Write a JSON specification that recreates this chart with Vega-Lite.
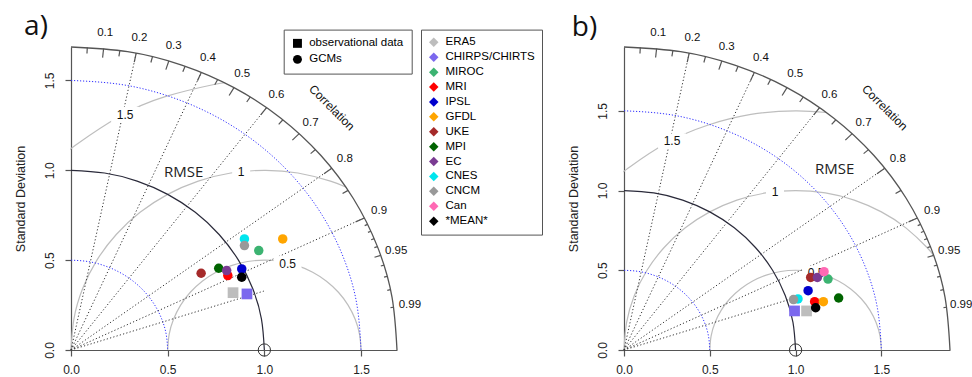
{
 "$schema": "https://vega.github.io/schema/vega-lite/v6.json",
 "padding": {"left": 13, "top": 12, "right": 5, "bottom": 0},
 "bounds": "flush",
 "spacing": 227,
 "background": "white",
 "config": {"view": {"stroke": null}, "font": "Liberation Sans"},
 "resolve": {"scale": {"x": "independent", "y": "independent", "color": "independent", "shape": "independent"}, "legend": {"color": "independent", "shape": "independent"}},
 "datasets": {
  "sd": [
   {"r":0.5,"x":0.5,"y":0},{"r":0.5,"x":0.4924,"y":0.0868},{"r":0.5,"x":0.4698,"y":0.171},{"r":0.5,"x":0.433,"y":0.25},{"r":0.5,"x":0.383,"y":0.3214},{"r":0.5,"x":0.3214,"y":0.383},{"r":0.5,"x":0.25,"y":0.433},{"r":0.5,"x":0.171,"y":0.4698},{"r":0.5,"x":0.0868,"y":0.4924},{"r":0.5,"x":0,"y":0.5},
   {"r":1,"x":1,"y":0},{"r":1,"x":0.9848,"y":0.1736},{"r":1,"x":0.9397,"y":0.342},{"r":1,"x":0.866,"y":0.5},{"r":1,"x":0.766,"y":0.6428},{"r":1,"x":0.6428,"y":0.766},{"r":1,"x":0.5,"y":0.866},{"r":1,"x":0.342,"y":0.9397},{"r":1,"x":0.1736,"y":0.9848},{"r":1,"x":0,"y":1},
   {"r":1.5,"x":1.5,"y":0},{"r":1.5,"x":1.4772,"y":0.2605},{"r":1.5,"x":1.4095,"y":0.513},{"r":1.5,"x":1.299,"y":0.75},{"r":1.5,"x":1.1491,"y":0.9642},{"r":1.5,"x":0.9642,"y":1.1491},{"r":1.5,"x":0.75,"y":1.299},{"r":1.5,"x":0.513,"y":1.4095},{"r":1.5,"x":0.2605,"y":1.4772},{"r":1.5,"x":0,"y":1.5}
  ],
  "rmse05": [
   {"x":1.5,"y":0},{"x":1.4924,"y":0.0868},{"x":1.4698,"y":0.171},{"x":1.433,"y":0.25},{"x":1.383,"y":0.3214},{"x":1.3214,"y":0.383},{"x":1.25,"y":0.433},{"x":1.171,"y":0.4698},{"x":1.0868,"y":0.4924},{"x":1,"y":0.5},{"x":0.9132,"y":0.4924},{"x":0.829,"y":0.4698},{"x":0.75,"y":0.433},{"x":0.6786,"y":0.383},{"x":0.617,"y":0.3214},{"x":0.567,"y":0.25},{"x":0.5302,"y":0.171},{"x":0.5076,"y":0.0868},{"x":0.5,"y":0}
  ],
  "rmseA": [
   {"r":1,"x":1.421,"y":0.907},{"r":1,"x":1.342,"y":0.9397},{"r":1,"x":1.1736,"y":0.9848},{"r":1,"x":1,"y":1},{"r":1,"x":0.8264,"y":0.9848},{"r":1,"x":0.658,"y":0.9397},{"r":1,"x":0.5,"y":0.866},{"r":1,"x":0.3572,"y":0.766},{"r":1,"x":0.234,"y":0.6428},{"r":1,"x":0.134,"y":0.5},{"r":1,"x":0.0603,"y":0.342},{"r":1,"x":0.0152,"y":0.1736},{"r":1,"x":0,"y":0},
   {"r":1.5,"x":0.7964,"y":1.4861},{"r":1.5,"x":0.7395,"y":1.4772},{"r":1.5,"x":0.487,"y":1.4095},{"r":1.5,"x":0.25,"y":1.299},{"r":1.5,"x":0.0358,"y":1.1491},{"r":1.5,"x":0,"y":1.118}
  ],
  "rmseB": [
   {"r":1,"x":1.8049,"y":0.5934},{"r":1,"x":1.766,"y":0.6428},{"r":1,"x":1.6428,"y":0.766},{"r":1,"x":1.5,"y":0.866},{"r":1,"x":1.342,"y":0.9397},{"r":1,"x":1.1736,"y":0.9848},{"r":1,"x":1,"y":1},{"r":1,"x":0.8264,"y":0.9848},{"r":1,"x":0.658,"y":0.9397},{"r":1,"x":0.5,"y":0.866},{"r":1,"x":0.3572,"y":0.766},{"r":1,"x":0.234,"y":0.6428},{"r":1,"x":0.134,"y":0.5},{"r":1,"x":0.0603,"y":0.342},{"r":1,"x":0.0152,"y":0.1736},{"r":1,"x":0,"y":0},
   {"r":1.5,"x":1.1802,"y":1.4892},{"r":1.5,"x":1,"y":1.5},{"r":1.5,"x":0.7395,"y":1.4772},{"r":1.5,"x":0.487,"y":1.4095},{"r":1.5,"x":0.25,"y":1.299},{"r":1.5,"x":0.0358,"y":1.1491},{"r":1.5,"x":0,"y":1.118}
  ],
  "outerA": [
   {"x":1.686,"y":0},{"x":1.6604,"y":0.2927},{"x":1.5843,"y":0.5766},{"x":1.4601,"y":0.843},{"x":1.2915,"y":1.0838},{"x":1.0838,"y":1.2915},{"x":0.843,"y":1.4601},{"x":0.5766,"y":1.5843},{"x":0.2927,"y":1.6604},{"x":0,"y":1.686}
  ],
  "outerB": [
   {"x":1.9,"y":0},{"x":1.8711,"y":0.3298},{"x":1.7854,"y":0.6498},{"x":1.6454,"y":0.95},{"x":1.4554,"y":1.2213},{"x":1.2213,"y":1.4554},{"x":0.95,"y":1.6454},{"x":0.6498,"y":1.7854},{"x":0.3298,"y":1.8711},{"x":0,"y":1.9}
  ],
  "raysA": [
   {"x":0,"y":0,"x2":0.3372,"y2":1.6519},{"x":0,"y":0,"x2":0.6744,"y2":1.5453},{"x":0,"y":0,"x2":1.0116,"y2":1.3488},{"x":0,"y":0,"x2":1.3488,"y2":1.0116},{"x":0,"y":0,"x2":1.5174,"y2":0.7349},{"x":0,"y":0,"x2":0.9975,"y2":0.3279}
  ],
  "raysB": [
   {"x":0,"y":0,"x2":0.38,"y2":1.8616},{"x":0,"y":0,"x2":0.76,"y2":1.7414},{"x":0,"y":0,"x2":1.14,"y2":1.52},{"x":0,"y":0,"x2":1.52,"y2":1.14},{"x":0,"y":0,"x2":1.71,"y2":0.8282},{"x":0,"y":0,"x2":0.9975,"y2":0.3279}
  ],
  "ticksA": [
   {"x":0.1686,"y":1.6776,"x2":0.1635,"y2":1.6272},{"x":0.3372,"y":1.6519,"x2":0.3271,"y2":1.6024},{"x":0.5058,"y":1.6083,"x2":0.4906,"y2":1.5601},{"x":0.6744,"y":1.5453,"x2":0.6542,"y2":1.4989},{"x":0.843,"y":1.4601,"x2":0.8177,"y2":1.4163},{"x":1.0116,"y":1.3488,"x2":0.9812,"y2":1.3083},{"x":1.1802,"y":1.204,"x2":1.1448,"y2":1.1679},{"x":1.3488,"y":1.0116,"x2":1.3083,"y2":0.9812},{"x":1.5174,"y":0.7349,"x2":1.4719,"y2":0.7129},
   {"x":0.0843,"y":1.6839,"x2":0.0826,"y2":1.6502},{"x":0.2529,"y":1.6669,"x2":0.2478,"y2":1.6336},{"x":0.4215,"y":1.6325,"x2":0.4131,"y2":1.5998},{"x":0.5901,"y":1.5794,"x2":0.5783,"y2":1.5478},{"x":0.7587,"y":1.5056,"x2":0.7435,"y2":1.4756},{"x":0.9273,"y":1.4081,"x2":0.9088,"y2":1.3799},{"x":1.0959,"y":1.2812,"x2":1.074,"y2":1.2556},{"x":1.2645,"y":1.1152,"x2":1.2392,"y2":1.0929},{"x":1.4331,"y":0.8882,"x2":1.4045,"y2":0.8704},{"x":1.6017,"y":0.5265,"x2":1.5697,"y2":0.5159},
   {"x":1.5343,"y":0.699,"x2":1.5189,"y2":0.692},{"x":1.5511,"y":0.6608,"x2":1.5356,"y2":0.6542},{"x":1.568,"y":0.6197,"x2":1.5523,"y2":0.6135},{"x":1.5848,"y":0.5752,"x2":1.569,"y2":0.5694},{"x":1.6186,"y":0.4721,"x2":1.6023,"y2":0.4673},{"x":1.6354,"y":0.4099,"x2":1.619,"y2":0.4058},{"x":1.6523,"y":0.3355,"x2":1.6357,"y2":0.3322},{"x":1.6691,"y":0.2378,"x2":1.6524,"y2":0.2355}
  ],
  "ticksB": [
   {"x":0.19,"y":1.8905,"x2":0.1843,"y2":1.8338},{"x":0.38,"y":1.8616,"x2":0.3686,"y2":1.8058},{"x":0.57,"y":1.8125,"x2":0.5529,"y2":1.7581},{"x":0.76,"y":1.7414,"x2":0.7372,"y2":1.6891},{"x":0.95,"y":1.6455,"x2":0.9215,"y2":1.5961},{"x":1.14,"y":1.52,"x2":1.1058,"y2":1.4744},{"x":1.33,"y":1.3569,"x2":1.2901,"y2":1.3162},{"x":1.52,"y":1.14,"x2":1.4744,"y2":1.1058},{"x":1.71,"y":0.8282,"x2":1.6587,"y2":0.8033},
   {"x":0.095,"y":1.8976,"x2":0.0931,"y2":1.8597},{"x":0.285,"y":1.8785,"x2":0.2793,"y2":1.841},{"x":0.475,"y":1.8397,"x2":0.4655,"y2":1.8029},{"x":0.665,"y":1.7798,"x2":0.6517,"y2":1.7442},{"x":0.855,"y":1.6968,"x2":0.8379,"y2":1.6628},{"x":1.045,"y":1.5868,"x2":1.0241,"y2":1.5551},{"x":1.235,"y":1.4439,"x2":1.2103,"y2":1.415},{"x":1.425,"y":1.2567,"x2":1.3965,"y2":1.2316},{"x":1.615,"y":1.0009,"x2":1.5827,"y2":0.9809},{"x":1.805,"y":0.5933,"x2":1.7689,"y2":0.5814},
   {"x":1.729,"y":0.7878,"x2":1.7117,"y2":0.7799},{"x":1.748,"y":0.7446,"x2":1.7305,"y2":0.7372},{"x":1.767,"y":0.6984,"x2":1.7493,"y2":0.6914},{"x":1.786,"y":0.6482,"x2":1.7681,"y2":0.6417},{"x":1.824,"y":0.532,"x2":1.8058,"y2":0.5267},{"x":1.843,"y":0.4619,"x2":1.8246,"y2":0.4573},{"x":1.862,"y":0.3781,"x2":1.8434,"y2":0.3743},{"x":1.881,"y":0.268,"x2":1.8622,"y2":0.2654}
  ],
  "corrA": [
   {"x":0.177,"y":1.7614,"label":"0.1"},{"x":0.3541,"y":1.7346,"label":"0.2"},{"x":0.5311,"y":1.6888,"label":"0.3"},{"x":0.7081,"y":1.6225,"label":"0.4"},{"x":0.8852,"y":1.5331,"label":"0.5"},{"x":1.0622,"y":1.4162,"label":"0.6"},{"x":1.2392,"y":1.2643,"label":"0.7"},{"x":1.4162,"y":1.0622,"label":"0.8"},{"x":1.5933,"y":0.7717,"label":"0.9"},{"x":1.6818,"y":0.5528,"label":"0.95"},{"x":1.7526,"y":0.2497,"label":"0.99"}
  ],
  "corrB": [
   {"x":0.1995,"y":1.985,"label":"0.1"},{"x":0.399,"y":1.9547,"label":"0.2"},{"x":0.5985,"y":1.9031,"label":"0.3"},{"x":0.798,"y":1.8285,"label":"0.4"},{"x":0.9975,"y":1.7277,"label":"0.5"},{"x":1.197,"y":1.596,"label":"0.6"},{"x":1.3965,"y":1.4247,"label":"0.7"},{"x":1.596,"y":1.197,"label":"0.8"},{"x":1.7955,"y":0.8696,"label":"0.9"},{"x":1.8953,"y":0.6229,"label":"0.95"},{"x":1.9651,"y":0.2814,"label":"0.99"}
  ],
  "rmseLab": [
   {"x":1.12,"y":0.48,"label":"0.5"},{"x":0.88,"y":0.99,"label":"1"},{"x":0.28,"y":1.31,"label":"1.5"}
  ],
  "pts": [
   {"p":"a","model":"ERA5","type":"observational data","x":0.838,"y":0.319},
   {"p":"a","model":"CHIRPS/CHIRTS","type":"observational data","x":0.91,"y":0.312},
   {"p":"a","model":"MIROC","type":"GCMs","x":0.971,"y":0.553},
   {"p":"a","model":"MRI","type":"GCMs","x":0.811,"y":0.414},
   {"p":"a","model":"IPSL","type":"GCMs","x":0.883,"y":0.451},
   {"p":"a","model":"GFDL","type":"GCMs","x":1.095,"y":0.618},
   {"p":"a","model":"UKE","type":"GCMs","x":0.673,"y":0.427},
   {"p":"a","model":"MPI","type":"GCMs","x":0.764,"y":0.455},
   {"p":"a","model":"EC","type":"GCMs","x":0.805,"y":0.442},
   {"p":"a","model":"CNES","type":"GCMs","x":0.897,"y":0.618},
   {"p":"a","model":"CNCM","type":"GCMs","x":0.897,"y":0.581},
   {"p":"a","model":"*MEAN*","type":"GCMs","x":0.883,"y":0.405},
   {"p":"b","model":"ERA5","type":"observational data","x":1.064,"y":0.245},
   {"p":"b","model":"CHIRPS/CHIRTS","type":"observational data","x":0.994,"y":0.245},
   {"p":"b","model":"MIROC","type":"GCMs","x":1.189,"y":0.445},
   {"p":"b","model":"MRI","type":"GCMs","x":1.111,"y":0.303},
   {"p":"b","model":"IPSL","type":"GCMs","x":1.073,"y":0.372},
   {"p":"b","model":"GFDL","type":"GCMs","x":1.162,"y":0.303},
   {"p":"b","model":"UKE","type":"GCMs","x":1.088,"y":0.455},
   {"p":"b","model":"MPI","type":"GCMs","x":1.251,"y":0.326},
   {"p":"b","model":"EC","type":"GCMs","x":1.127,"y":0.455},
   {"p":"b","model":"CNES","type":"GCMs","x":1.014,"y":0.32},
   {"p":"b","model":"CNCM","type":"GCMs","x":0.988,"y":0.316},
   {"p":"b","model":"Can","type":"GCMs","x":1.166,"y":0.491},
   {"p":"b","model":"*MEAN*","type":"GCMs","x":1.117,"y":0.265}
  ]
 },
 "hconcat": [
  {
   "width": 326, "height": 303,
   "layer": [
    {"data": {"name": "rmse05"}, "mark": {"type": "line", "interpolate": "natural", "stroke": "#BEBEBE", "strokeWidth": 1.2},
     "encoding": {
      "x": {"field": "x", "type": "quantitative", "scale": {"domain": [0, 1.686], "nice": false, "zero": false},
       "axis": {"values": [0, 0.5, 1, 1.5], "format": ".1f", "title": null, "grid": false, "domainColor": "#555", "domainWidth": 1.2, "tickColor": "#555", "tickSize": 6, "tickWidth": 1.2, "labelFontSize": 12, "labelFont": "Liberation Sans", "labelColor": "#222", "labelPadding": 8, "labelFlush": false, "labelOverlap": false}},
      "y": {"field": "y", "type": "quantitative", "scale": {"domain": [0, 1.686], "nice": false, "zero": false},
       "axis": {"values": [0, 0.5, 1, 1.5], "format": ".1f", "title": "Standard Deviation", "titleFontSize": 12.5, "titleFont": "Liberation Sans", "titleFontWeight": "normal", "titleColor": "#222", "titlePadding": 16, "grid": false, "domainColor": "#555", "domainWidth": 1.2, "tickColor": "#555", "tickSize": 6, "tickWidth": 1.2, "labelFontSize": 12, "labelFont": "Liberation Sans", "labelColor": "#222", "labelPadding": 9, "labelAngle": -90, "labelAlign": "center", "labelBaseline": "bottom", "labelFlush": false, "labelOverlap": false}}
     }},
    {"data": {"name": "rmseA"}, "mark": {"type": "line", "interpolate": "natural", "stroke": "#BEBEBE", "strokeWidth": 1.2},
     "encoding": {"x": {"field": "x", "type": "quantitative", "scale": {"domain": [0, 1.686], "nice": false, "zero": false}}, "y": {"field": "y", "type": "quantitative", "scale": {"domain": [0, 1.686], "nice": false, "zero": false}}, "detail": {"field": "r"}}},
    {"data": {"name": "sd"}, "transform": [{"filter": "datum.r != 1"}], "mark": {"type": "line", "interpolate": "natural", "stroke": "#3030FF", "strokeWidth": 1, "strokeDash": [1.2, 1.8]},
     "encoding": {"x": {"field": "x", "type": "quantitative", "scale": {"domain": [0, 1.686], "nice": false, "zero": false}}, "y": {"field": "y", "type": "quantitative", "scale": {"domain": [0, 1.686], "nice": false, "zero": false}}, "detail": {"field": "r"}}},
    {"data": {"name": "raysA"}, "mark": {"type": "rule", "stroke": "#333", "strokeWidth": 1, "strokeDash": [1.2, 2.2]},
     "encoding": {"x": {"field": "x", "type": "quantitative", "scale": {"domain": [0, 1.686], "nice": false, "zero": false}}, "y": {"field": "y", "type": "quantitative", "scale": {"domain": [0, 1.686], "nice": false, "zero": false}}, "x2": {"field": "x2"}, "y2": {"field": "y2"}}},
    {"data": {"name": "sd"}, "transform": [{"filter": "datum.r == 1"}], "mark": {"type": "line", "interpolate": "natural", "stroke": "#2a2a3a", "strokeWidth": 1.2},
     "encoding": {"x": {"field": "x", "type": "quantitative", "scale": {"domain": [0, 1.686], "nice": false, "zero": false}}, "y": {"field": "y", "type": "quantitative", "scale": {"domain": [0, 1.686], "nice": false, "zero": false}}}},
    {"data": {"name": "outerA"}, "mark": {"type": "line", "interpolate": "natural", "stroke": "#555", "strokeWidth": 1.3},
     "encoding": {"x": {"field": "x", "type": "quantitative", "scale": {"domain": [0, 1.686], "nice": false, "zero": false}}, "y": {"field": "y", "type": "quantitative", "scale": {"domain": [0, 1.686], "nice": false, "zero": false}}}},
    {"data": {"name": "ticksA"}, "mark": {"type": "rule", "stroke": "#555", "strokeWidth": 1.2},
     "encoding": {"x": {"field": "x", "type": "quantitative", "scale": {"domain": [0, 1.686], "nice": false, "zero": false}}, "y": {"field": "y", "type": "quantitative", "scale": {"domain": [0, 1.686], "nice": false, "zero": false}}, "x2": {"field": "x2"}, "y2": {"field": "y2"}}},
    {"data": {"name": "corrA"}, "mark": {"type": "text", "fontSize": 11.5, "font": "Liberation Sans", "color": "#111", "align": "center", "baseline": "middle"},
     "encoding": {"x": {"field": "x", "type": "quantitative", "scale": {"domain": [0, 1.686], "nice": false, "zero": false}}, "y": {"field": "y", "type": "quantitative", "scale": {"domain": [0, 1.686], "nice": false, "zero": false}}, "text": {"field": "label"}}},
    {"data": {"values": [{}]}, "mark": {"type": "text", "angle": 45, "fontSize": 12, "font": "Liberation Sans", "color": "#111", "align": "center", "baseline": "middle"},
     "encoding": {"x": {"datum": 1.349, "type": "quantitative", "scale": {"domain": [0, 1.686], "nice": false, "zero": false}}, "y": {"datum": 1.349, "type": "quantitative", "scale": {"domain": [0, 1.686], "nice": false, "zero": false}}, "text": {"value": "Correlation"}}},
    {"data": {"name": "rmseLab"}, "transform": [{"filter": "datum.label != '1'"}], "mark": {"type": "point", "shape": "M-1,-0.55H1V0.55H-1Z", "size": 784, "filled": true, "color": "white", "opacity": 1, "strokeWidth": 0},
     "encoding": {"x": {"field": "x", "type": "quantitative", "scale": {"domain": [0, 1.686], "nice": false, "zero": false}}, "y": {"field": "y", "type": "quantitative", "scale": {"domain": [0, 1.686], "nice": false, "zero": false}}}},
    {"data": {"name": "rmseLab"}, "transform": [{"filter": "datum.label == '1'"}], "mark": {"type": "point", "shape": "M-1,-0.85H1V0.85H-1Z", "size": 324, "filled": true, "color": "white", "opacity": 1, "strokeWidth": 0},
     "encoding": {"x": {"field": "x", "type": "quantitative", "scale": {"domain": [0, 1.686], "nice": false, "zero": false}}, "y": {"field": "y", "type": "quantitative", "scale": {"domain": [0, 1.686], "nice": false, "zero": false}}}},
    {"data": {"name": "rmseLab"}, "mark": {"type": "text", "fontSize": 12, "font": "Liberation Sans", "color": "#111", "align": "center", "baseline": "middle"},
     "encoding": {"x": {"field": "x", "type": "quantitative", "scale": {"domain": [0, 1.686], "nice": false, "zero": false}}, "y": {"field": "y", "type": "quantitative", "scale": {"domain": [0, 1.686], "nice": false, "zero": false}}, "text": {"field": "label"}}},
    {"data": {"values": [{}]}, "mark": {"type": "text", "fontSize": 15, "font": "Open Sans", "color": "#222", "align": "center", "baseline": "middle"},
     "encoding": {"x": {"datum": 0.583, "type": "quantitative", "scale": {"domain": [0, 1.686], "nice": false, "zero": false}}, "y": {"datum": 0.993, "type": "quantitative", "scale": {"domain": [0, 1.686], "nice": false, "zero": false}}, "text": {"value": "RMSE"}}},
    {"data": {"name": "pts"}, "transform": [{"filter": "datum.p == 'a' && datum.type == 'observational data'"}], "mark": {"type": "point", "filled": true, "opacity": 1, "strokeWidth": 0, "size": 115},
     "encoding": {
      "x": {"field": "x", "type": "quantitative", "scale": {"domain": [0, 1.686], "nice": false, "zero": false}},
      "y": {"field": "y", "type": "quantitative", "scale": {"domain": [0, 1.686], "nice": false, "zero": false}},
      "color": {"field": "model", "type": "nominal", "scale": {"domain": ["ERA5", "CHIRPS/CHIRTS", "MIROC", "MRI", "IPSL", "GFDL", "UKE", "MPI", "EC", "CNES", "CNCM", "Can", "*MEAN*"], "range": ["#BDBDBD", "#7B68EE", "#3CB371", "#FF0000", "#0000CD", "#FFA500", "#A52A2A", "#006400", "#7A3B92", "#00E5EE", "#999999", "#FF69B4", "#000000"]}},
      "shape": {"field": "type", "type": "nominal", "scale": {"domain": ["observational data", "GCMs"], "range": ["square", "circle"]}}
     }},
    {"data": {"name": "pts"}, "transform": [{"filter": "datum.p == 'a' && datum.type == 'GCMs'"}], "mark": {"type": "point", "filled": true, "opacity": 1, "strokeWidth": 0, "size": 90},
     "encoding": {
      "x": {"field": "x", "type": "quantitative", "scale": {"domain": [0, 1.686], "nice": false, "zero": false}},
      "y": {"field": "y", "type": "quantitative", "scale": {"domain": [0, 1.686], "nice": false, "zero": false}},
      "color": {"field": "model", "type": "nominal", "scale": {"domain": ["ERA5", "CHIRPS/CHIRTS", "MIROC", "MRI", "IPSL", "GFDL", "UKE", "MPI", "EC", "CNES", "CNCM", "Can", "*MEAN*"], "range": ["#BDBDBD", "#7B68EE", "#3CB371", "#FF0000", "#0000CD", "#FFA500", "#A52A2A", "#006400", "#7A3B92", "#00E5EE", "#999999", "#FF69B4", "#000000"]},
       "legend": {"orient": "none", "legendX": 350, "legendY": -17.4, "title": null, "strokeColor": "#555", "padding": 7, "symbolType": "diamond", "symbolSize": 90, "symbolStrokeWidth": 0, "labelFontSize": 11.5, "labelFont": "Liberation Sans", "labelColor": "#000", "rowPadding": 1.9, "labelOffset": 6, "direction": "vertical"}},
      "shape": {"field": "type", "type": "nominal", "scale": {"domain": ["observational data", "GCMs"], "range": ["square", "circle"]},
       "legend": {"orient": "none", "legendX": 212.7, "legendY": -17.4, "title": null, "strokeColor": "#555", "padding": 8, "symbolFillColor": "#000", "symbolStrokeColor": "#000", "symbolStrokeWidth": 0, "symbolSize": 80, "labelFontSize": 11.5, "labelFont": "Liberation Sans", "labelColor": "#000", "rowPadding": 3, "labelOffset": 6, "direction": "vertical"}}
     }},
    {"data": {"values": [{}]}, "mark": {"type": "point", "shape": "circle", "filled": false, "size": 150, "stroke": "#333", "strokeWidth": 1, "opacity": 1},
     "encoding": {"x": {"datum": 1, "type": "quantitative", "scale": {"domain": [0, 1.686], "nice": false, "zero": false}}, "y": {"datum": 0, "type": "quantitative", "scale": {"domain": [0, 1.686], "nice": false, "zero": false}}}},
    {"data": {"values": [{}]}, "mark": {"type": "text", "fontSize": 28, "font": "Open Sans", "color": "#111", "align": "center", "baseline": "alphabetic"},
     "encoding": {"x": {"datum": -0.181, "type": "quantitative", "scale": {"domain": [0, 1.686], "nice": false, "zero": false}}, "y": {"datum": 1.754, "type": "quantitative", "scale": {"domain": [0, 1.686], "nice": false, "zero": false}}, "text": {"value": "a)"}}}
   ]
  },
  {
   "width": 326, "height": 303,
   "layer": [
    {"data": {"name": "rmse05"}, "mark": {"type": "line", "interpolate": "natural", "stroke": "#BEBEBE", "strokeWidth": 1.2},
     "encoding": {
      "x": {"field": "x", "type": "quantitative", "scale": {"domain": [0, 1.9], "nice": false, "zero": false},
       "axis": {"values": [0, 0.5, 1, 1.5], "format": ".1f", "title": null, "grid": false, "domainColor": "#555", "domainWidth": 1.2, "tickColor": "#555", "tickSize": 6, "tickWidth": 1.2, "labelFontSize": 12, "labelFont": "Liberation Sans", "labelColor": "#222", "labelPadding": 8, "labelFlush": false, "labelOverlap": false}},
      "y": {"field": "y", "type": "quantitative", "scale": {"domain": [0, 1.9], "nice": false, "zero": false},
       "axis": {"values": [0, 0.5, 1, 1.5], "format": ".1f", "title": "Standard Deviation", "titleFontSize": 12.5, "titleFont": "Liberation Sans", "titleFontWeight": "normal", "titleColor": "#222", "titlePadding": 16, "grid": false, "domainColor": "#555", "domainWidth": 1.2, "tickColor": "#555", "tickSize": 6, "tickWidth": 1.2, "labelFontSize": 12, "labelFont": "Liberation Sans", "labelColor": "#222", "labelPadding": 9, "labelAngle": -90, "labelAlign": "center", "labelBaseline": "bottom", "labelFlush": false, "labelOverlap": false}}
     }},
    {"data": {"name": "rmseB"}, "mark": {"type": "line", "interpolate": "natural", "stroke": "#BEBEBE", "strokeWidth": 1.2},
     "encoding": {"x": {"field": "x", "type": "quantitative", "scale": {"domain": [0, 1.9], "nice": false, "zero": false}}, "y": {"field": "y", "type": "quantitative", "scale": {"domain": [0, 1.9], "nice": false, "zero": false}}, "detail": {"field": "r"}}},
    {"data": {"name": "sd"}, "transform": [{"filter": "datum.r != 1"}], "mark": {"type": "line", "interpolate": "natural", "stroke": "#3030FF", "strokeWidth": 1, "strokeDash": [1.2, 1.8]},
     "encoding": {"x": {"field": "x", "type": "quantitative", "scale": {"domain": [0, 1.9], "nice": false, "zero": false}}, "y": {"field": "y", "type": "quantitative", "scale": {"domain": [0, 1.9], "nice": false, "zero": false}}, "detail": {"field": "r"}}},
    {"data": {"name": "raysB"}, "mark": {"type": "rule", "stroke": "#333", "strokeWidth": 1, "strokeDash": [1.2, 2.2]},
     "encoding": {"x": {"field": "x", "type": "quantitative", "scale": {"domain": [0, 1.9], "nice": false, "zero": false}}, "y": {"field": "y", "type": "quantitative", "scale": {"domain": [0, 1.9], "nice": false, "zero": false}}, "x2": {"field": "x2"}, "y2": {"field": "y2"}}},
    {"data": {"name": "sd"}, "transform": [{"filter": "datum.r == 1"}], "mark": {"type": "line", "interpolate": "natural", "stroke": "#2a2a3a", "strokeWidth": 1.2},
     "encoding": {"x": {"field": "x", "type": "quantitative", "scale": {"domain": [0, 1.9], "nice": false, "zero": false}}, "y": {"field": "y", "type": "quantitative", "scale": {"domain": [0, 1.9], "nice": false, "zero": false}}}},
    {"data": {"name": "outerB"}, "mark": {"type": "line", "interpolate": "natural", "stroke": "#555", "strokeWidth": 1.3},
     "encoding": {"x": {"field": "x", "type": "quantitative", "scale": {"domain": [0, 1.9], "nice": false, "zero": false}}, "y": {"field": "y", "type": "quantitative", "scale": {"domain": [0, 1.9], "nice": false, "zero": false}}}},
    {"data": {"name": "ticksB"}, "mark": {"type": "rule", "stroke": "#555", "strokeWidth": 1.2},
     "encoding": {"x": {"field": "x", "type": "quantitative", "scale": {"domain": [0, 1.9], "nice": false, "zero": false}}, "y": {"field": "y", "type": "quantitative", "scale": {"domain": [0, 1.9], "nice": false, "zero": false}}, "x2": {"field": "x2"}, "y2": {"field": "y2"}}},
    {"data": {"name": "corrB"}, "mark": {"type": "text", "fontSize": 11.5, "font": "Liberation Sans", "color": "#111", "align": "center", "baseline": "middle"},
     "encoding": {"x": {"field": "x", "type": "quantitative", "scale": {"domain": [0, 1.9], "nice": false, "zero": false}}, "y": {"field": "y", "type": "quantitative", "scale": {"domain": [0, 1.9], "nice": false, "zero": false}}, "text": {"field": "label"}}},
    {"data": {"values": [{}]}, "mark": {"type": "text", "angle": 45, "fontSize": 12, "font": "Liberation Sans", "color": "#111", "align": "center", "baseline": "middle"},
     "encoding": {"x": {"datum": 1.52, "type": "quantitative", "scale": {"domain": [0, 1.9], "nice": false, "zero": false}}, "y": {"datum": 1.52, "type": "quantitative", "scale": {"domain": [0, 1.9], "nice": false, "zero": false}}, "text": {"value": "Correlation"}}},
    {"data": {"name": "rmseLab"}, "transform": [{"filter": "datum.label != '1'"}], "mark": {"type": "point", "shape": "M-1,-0.55H1V0.55H-1Z", "size": 784, "filled": true, "color": "white", "opacity": 1, "strokeWidth": 0},
     "encoding": {"x": {"field": "x", "type": "quantitative", "scale": {"domain": [0, 1.9], "nice": false, "zero": false}}, "y": {"field": "y", "type": "quantitative", "scale": {"domain": [0, 1.9], "nice": false, "zero": false}}}},
    {"data": {"name": "rmseLab"}, "transform": [{"filter": "datum.label == '1'"}], "mark": {"type": "point", "shape": "M-1,-0.85H1V0.85H-1Z", "size": 324, "filled": true, "color": "white", "opacity": 1, "strokeWidth": 0},
     "encoding": {"x": {"field": "x", "type": "quantitative", "scale": {"domain": [0, 1.9], "nice": false, "zero": false}}, "y": {"field": "y", "type": "quantitative", "scale": {"domain": [0, 1.9], "nice": false, "zero": false}}}},
    {"data": {"name": "rmseLab"}, "mark": {"type": "text", "fontSize": 12, "font": "Liberation Sans", "color": "#111", "align": "center", "baseline": "middle"},
     "encoding": {"x": {"field": "x", "type": "quantitative", "scale": {"domain": [0, 1.9], "nice": false, "zero": false}}, "y": {"field": "y", "type": "quantitative", "scale": {"domain": [0, 1.9], "nice": false, "zero": false}}, "text": {"field": "label"}}},
    {"data": {"values": [{}]}, "mark": {"type": "text", "fontSize": 15, "font": "Open Sans", "color": "#222", "align": "center", "baseline": "middle"},
     "encoding": {"x": {"datum": 1.228, "type": "quantitative", "scale": {"domain": [0, 1.9], "nice": false, "zero": false}}, "y": {"datum": 1.135, "type": "quantitative", "scale": {"domain": [0, 1.9], "nice": false, "zero": false}}, "text": {"value": "RMSE"}}},
    {"data": {"name": "pts"}, "transform": [{"filter": "datum.p == 'b' && datum.type == 'observational data'"}], "mark": {"type": "point", "filled": true, "opacity": 1, "strokeWidth": 0, "size": 115},
     "encoding": {
      "x": {"field": "x", "type": "quantitative", "scale": {"domain": [0, 1.9], "nice": false, "zero": false}},
      "y": {"field": "y", "type": "quantitative", "scale": {"domain": [0, 1.9], "nice": false, "zero": false}},
      "color": {"field": "model", "type": "nominal", "scale": {"domain": ["ERA5", "CHIRPS/CHIRTS", "MIROC", "MRI", "IPSL", "GFDL", "UKE", "MPI", "EC", "CNES", "CNCM", "Can", "*MEAN*"], "range": ["#BDBDBD", "#7B68EE", "#3CB371", "#FF0000", "#0000CD", "#FFA500", "#A52A2A", "#006400", "#7A3B92", "#00E5EE", "#999999", "#FF69B4", "#000000"]}, "legend": null},
      "shape": {"field": "type", "type": "nominal", "scale": {"domain": ["observational data", "GCMs"], "range": ["square", "circle"]}, "legend": null}
     }},
    {"data": {"name": "pts"}, "transform": [{"filter": "datum.p == 'b' && datum.type == 'GCMs'"}], "mark": {"type": "point", "filled": true, "opacity": 1, "strokeWidth": 0, "size": 90},
     "encoding": {
      "x": {"field": "x", "type": "quantitative", "scale": {"domain": [0, 1.9], "nice": false, "zero": false}},
      "y": {"field": "y", "type": "quantitative", "scale": {"domain": [0, 1.9], "nice": false, "zero": false}},
      "color": {"field": "model", "type": "nominal", "scale": {"domain": ["ERA5", "CHIRPS/CHIRTS", "MIROC", "MRI", "IPSL", "GFDL", "UKE", "MPI", "EC", "CNES", "CNCM", "Can", "*MEAN*"], "range": ["#BDBDBD", "#7B68EE", "#3CB371", "#FF0000", "#0000CD", "#FFA500", "#A52A2A", "#006400", "#7A3B92", "#00E5EE", "#999999", "#FF69B4", "#000000"]}, "legend": null},
      "shape": {"field": "type", "type": "nominal", "scale": {"domain": ["observational data", "GCMs"], "range": ["square", "circle"]}, "legend": null}
     }},
    {"data": {"values": [{}]}, "mark": {"type": "point", "shape": "circle", "filled": false, "size": 150, "stroke": "#333", "strokeWidth": 1, "opacity": 1},
     "encoding": {"x": {"datum": 1, "type": "quantitative", "scale": {"domain": [0, 1.9], "nice": false, "zero": false}}, "y": {"datum": 0, "type": "quantitative", "scale": {"domain": [0, 1.9], "nice": false, "zero": false}}}},
    {"data": {"values": [{}]}, "mark": {"type": "text", "fontSize": 28, "font": "Open Sans", "color": "#111", "align": "center", "baseline": "alphabetic"},
     "encoding": {"x": {"datum": -0.23, "type": "quantitative", "scale": {"domain": [0, 1.9], "nice": false, "zero": false}}, "y": {"datum": 1.969, "type": "quantitative", "scale": {"domain": [0, 1.9], "nice": false, "zero": false}}, "text": {"value": "b)"}}}
   ]
  }
 ]
}
